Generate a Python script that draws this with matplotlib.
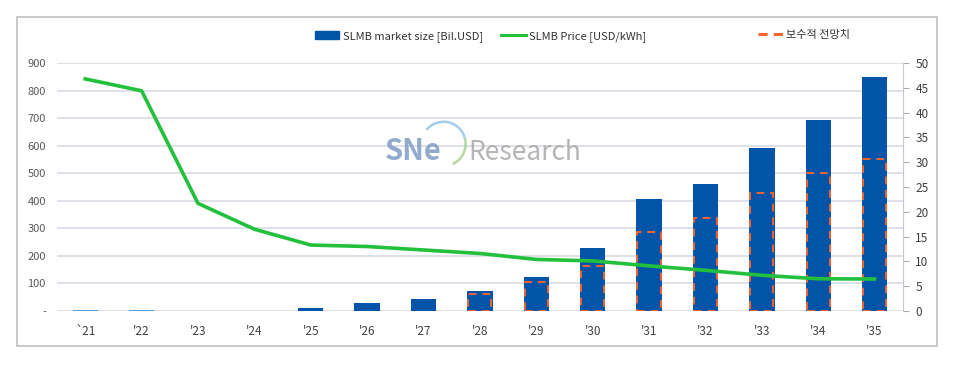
import matplotlib.pyplot as plt
import numpy as np
from matplotlib.patches import Rectangle, Patch, Arc
from matplotlib.lines import Line2D

plt.rcParams['font.family'] = ['Noto Sans CJK KR', 'DejaVu Sans']

# ====== DATA ======
years = ["`21", "'22", "'23", "'24", "'25", "'26", "'27", "'28",
         "'29", "'30", "'31", "'32", "'33", "'34", "'35"]
market_size = [2, 2, 0, 0, 10, 28, 42, 74, 124, 227, 408, 460, 593, 692, 848]   # Bil.USD
conservative = [np.nan] * 7 + [62, 106, 164, 285, 337, 427, 502, 553]          # Bil.USD
price = [46.8, 44.4, 21.7, 16.5, 13.3, 13.0, 12.3, 11.6,
         10.4, 10.1, 9.1, 8.2, 7.2, 6.5, 6.45]                                  # USD/kWh

# ====== STYLE ======
bar_blue = "#0254a8"
light_blue = "#5b9bd5"
green = "#22c03c"
orange = "#f26430"
grid_col = "#d9dbe4"
text_col = "#595959"
fs = 8

fig = plt.figure(figsize=(9.6, 3.69), dpi=100)
fig.patches.append(Rectangle((0.0177, 0.062), 0.958, 0.892, transform=fig.transFigure,
                             fill=False, edgecolor="#c0c0c0", linewidth=1.2))

ax = fig.add_axes([0.0594, 0.1572, 0.881, 0.672])
x = np.arange(len(years))
colors = [light_blue if i < 2 else bar_blue for i in range(len(years))]
ax.bar(x, market_size, width=0.45, color=colors, zorder=2)
ax.bar(x, conservative, width=0.41, fill=False, edgecolor=orange,
       linestyle=(0, (4, 3)), linewidth=1.4, zorder=3)

ax.set_xlim(-0.5, len(years) - 0.5)
ax.set_ylim(0, 900)
ax.set_yticks(range(0, 1000, 100))
ax.set_yticklabels(["-"] + [str(v) for v in range(100, 1000, 100)])
ax.set_xticks(x)
ax.set_xticklabels(years)
ax.grid(axis="y", color=grid_col, linewidth=1.2, zorder=0)
ax.set_axisbelow(True)
for s in ax.spines.values():
    s.set_visible(False)
ax.tick_params(axis="y", length=0, pad=8, labelsize=fs, labelcolor=text_col)
ax.tick_params(axis="x", length=0, pad=10, labelsize=8.5, labelcolor="#404040")

ax2 = ax.twinx()
ax2.plot(x, price, color=green, linewidth=2.6, zorder=4)
ax2.set_ylim(0, 50)
ax2.set_yticks(range(0, 55, 5))
for s in ["top", "left", "bottom"]:
    ax2.spines[s].set_visible(False)
ax2.spines["right"].set_color("#c8c8c8")
ax2.tick_params(axis="y", length=4, color="#b0b0b0", pad=5, labelsize=8.5, labelcolor="#404040")

# ====== WATERMARK ======
fig.text(0.401, 0.566, "SNe", fontsize=21, fontweight="bold", color="#7f9cc4",
         alpha=0.85, va="baseline")
fig.text(0.488, 0.566, "Research", fontsize=19, color="#a8a8a8", alpha=0.85, va="baseline")
fig.patches.append(Arc((0.462, 0.61), 0.046, 0.12, theta1=35, theta2=115,
                       transform=fig.transFigure, color="#8fc0e8", linewidth=1.8, alpha=0.8))
fig.patches.append(Arc((0.462, 0.61), 0.046, 0.12, theta1=-80, theta2=35,
                       transform=fig.transFigure, color="#9fd08a", linewidth=1.8, alpha=0.8))

# ====== LEGENDS ======
leg_kw = dict(frameon=False, fontsize=fs, handletextpad=0.3, borderpad=0, borderaxespad=0,
              loc="center left", handlelength=2.2, labelcolor="#333333")
fig.legend([Patch(color=bar_blue)], ["SLMB market size [Bil.USD]"],
           bbox_to_anchor=(0.328, 0.902), **leg_kw)
fig.legend([Line2D([], [], color=green, linewidth=2.2)], ["SLMB Price [USD/kWh]"],
           bbox_to_anchor=(0.522, 0.902), **leg_kw)
fig.legend([Line2D([], [], color=orange, linewidth=2.2, linestyle=(0, (3, 2)))], ["보수적 전망치"],
           bbox_to_anchor=(0.790, 0.905), **leg_kw)

plt.savefig("out.png", dpi=100)
